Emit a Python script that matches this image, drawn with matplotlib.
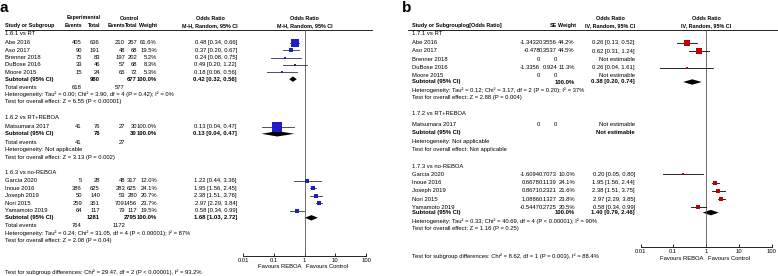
import matplotlib
matplotlib.use('Agg')
import matplotlib.pyplot as plt

plt.rcParams['font.family'] = ['Liberation Sans', 'DejaVu Sans']

W, H = 778, 276
FS = 4.25
HFS = 3.9

# ------------------------- Panel a data -------------------------
a_g1_label = "1.6.1 vs RT"
a_g1_studies = ["Abe 2016", "Aso 2017", "Brenner 2018", "DuBose 2016", "Moore 2015"]
a_g1_exp_events = [405, 90, 75, 33, 15]
a_g1_exp_total = [636, 191, 83, 46, 24]
a_g1_ctrl_events = [210, 48, 197, 57, 65]
a_g1_ctrl_total = [267, 68, 202, 68, 72]
a_g1_weight = [61.6, 19.5, 5.2, 8.3, 5.3]
a_g1_or = [0.48, 0.37, 0.24, 0.49, 0.18]
a_g1_lo = [0.34, 0.20, 0.08, 0.20, 0.06]
a_g1_hi = [0.66, 0.67, 0.75, 1.22, 0.56]
a_g1_sub = [0.42, 0.32, 0.56]
a_g1_sub_totals = [980, 677]
a_g1_total_events = [618, 577]
a_g1_het = "Heterogeneity: Tau² = 0.00; Chi² = 3.90, df = 4 (P = 0.42); I² = 0%"
a_g1_test = "Test for overall effect: Z = 6.55 (P < 0.00001)"

a_g2_label = "1.6.2 vs RT+REBOA"
a_g2_studies = ["Matsumara 2017"]
a_g2_exp_events = [41]
a_g2_exp_total = [76]
a_g2_ctrl_events = [27]
a_g2_ctrl_total = [30]
a_g2_weight = [100.0]
a_g2_or = [0.13]
a_g2_lo = [0.04]
a_g2_hi = [0.47]
a_g2_sub = [0.13, 0.04, 0.47]
a_g2_sub_totals = [76, 30]
a_g2_total_events = [41, 27]
a_g2_het = "Heterogeneity: Not applicable"
a_g2_test = "Test for overall effect: Z = 3.13 (P = 0.002)"

a_g3_label = "1.6.3 vs no-REBOA"
a_g3_studies = ["Garcia 2020", "Inoue 2016", "Joseph 2019", "Nori 2015", "Yamamoto 2019"]
a_g3_exp_events = [5, 386, 50, 259, 64]
a_g3_exp_total = [28, 625, 140, 351, 117]
a_g3_ctrl_events = [48, 283, 53, 709, 79]
a_g3_ctrl_total = [317, 625, 280, 1456, 117]
a_g3_weight = [12.0, 24.1, 20.7, 23.7, 19.5]
a_g3_or = [1.22, 1.95, 2.38, 2.97, 0.58]
a_g3_lo = [0.44, 1.56, 1.51, 2.29, 0.34]
a_g3_hi = [3.36, 2.45, 3.76, 3.84, 0.99]
a_g3_sub = [1.68, 1.03, 2.72]
a_g3_sub_totals = [1281, 2795]
a_g3_total_events = [764, 1172]
a_g3_het = "Heterogeneity: Tau² = 0.24; Chi² = 31.05, df = 4 (P < 0.00001); I² = 87%"
a_g3_test = "Test for overall effect: Z = 2.08 (P = 0.04)"

a_subgroup_test = "Test for subgroup differences: Chi² = 29.47, df = 2 (P < 0.00001), I² = 93.2%"

# ------------------------- Panel b data -------------------------
b_g1_label = "1.7.1 vs RT"
b_g1_studies = ["Abe 2016", "Aso 2017", "Brenner 2018", "DuBose 2016", "Moore 2015"]
b_g1_logor = [-1.3432, -0.478, 0, -1.3356, 0]
b_g1_se = [0.3556, 0.3537, 0, 0.924, 0]
b_g1_weight = [44.2, 44.5, None, 11.3, None]
b_g1_or = [0.26, 0.62, None, 0.26, None]
b_g1_lo = [0.13, 0.31, None, 0.04, None]
b_g1_hi = [0.52, 1.24, None, 1.61, None]
b_g1_sub = [0.38, 0.20, 0.74]
b_g1_het = "Heterogeneity: Tau² = 0.12; Chi² = 3.17, df = 2 (P = 0.20); I² = 37%"
b_g1_test = "Test for overall effect: Z = 2.88 (P = 0.004)"

b_g2_label = "1.7.2 vs RT+REBOA"
b_g2_studies = ["Matsumara 2017"]
b_g2_logor = [0]
b_g2_se = [0]
b_g2_weight = [None]
b_g2_or = [None]
b_g2_lo = [None]
b_g2_hi = [None]
b_g2_sub = None
b_g2_het = "Heterogeneity: Not applicable"
b_g2_test = "Test for overall effect: Not applicable"

b_g3_label = "1.7.3 vs no-REBOA"
b_g3_studies = ["Garcia 2020", "Inoue 2016", "Joseph 2019", "Nori 2015", "Yamamoto 2019"]
b_g3_logor = [-1.6094, 0.6678, 0.8671, 1.0886, -0.5447]
b_g3_se = [0.7073, 0.1139, 0.2321, 0.1327, 0.2725]
b_g3_weight = [10.0, 24.1, 21.6, 23.8, 20.5]
b_g3_or = [0.20, 1.95, 2.38, 2.97, 0.58]
b_g3_lo = [0.05, 1.56, 1.51, 2.29, 0.34]
b_g3_hi = [0.80, 2.44, 3.75, 3.85, 0.99]
b_g3_sub = [1.40, 0.79, 2.46]
b_g3_het = "Heterogeneity: Tau² = 0.33; Chi² = 40.69, df = 4 (P < 0.00001); I² = 90%"
b_g3_test = "Test for overall effect: Z = 1.16 (P = 0.25)"

b_subgroup_test = "Test for subgroup differences: Chi² = 8.62, df = 1 (P = 0.003), I² = 88.4%"

axis_ticks = [0.01, 0.1, 1, 10, 100]
axis_tick_labels = ["0.01", "0.1", "1", "10", "100"]
favours_left = "Favours REBOA"
favours_right = "Favours Control"

# ------------------------- figure -------------------------
fig = plt.figure(figsize=(W / 100, H / 100), dpi=100)
ax = fig.add_axes([0, 0, 1, 1])
ax.set_xlim(0, W)
ax.set_ylim(H, 0)
ax.axis('off')


def t(x, y, s, ha='left', bold=False, fs=FS):
    ax.text(x, y, s, ha=ha, va='center', fontsize=fs,
            fontweight='bold' if bold else 'normal', color='black')


def hdr(x, y, s, ha='left'):
    t(x, y, s, ha=ha, bold=True, fs=HFS)


def forest_axes(x0, x1, y_top, y_axis):
    a = fig.add_axes([x0 / W, 1 - y_axis / H, (x1 - x0) / W, (y_axis - y_top) / H])
    a.set_xscale('log')
    a.set_xlim(0.01, 100)
    a.set_ylim(y_axis, y_top)
    a.patch.set_alpha(0)
    for s in ['top', 'left', 'right']:
        a.spines[s].set_visible(False)
    a.spines['bottom'].set_linewidth(0.6)
    a.set_yticks([])
    a.set_xticks(axis_ticks)
    a.set_xticklabels(axis_tick_labels, fontsize=FS)
    a.minorticks_off()
    a.tick_params(axis='x', direction='in', length=2.2, width=0.6, pad=1.8)
    a.plot([1, 1], [y_top, y_axis], color='#555555', lw=0.6, clip_on=False)
    return a


def diamond(a, est, lo, hi, y, hh=2.7):
    a.fill([lo, est, hi, est], [y, y - hh, y, y + hh], color='black', lw=0, clip_on=False)


# ------------------------- Panel a -------------------------
A_STUDY, A_EE, A_ET, A_CE, A_CT, A_WT, A_OR = 5, 82, 100, 125, 137, 157, 237
A_PLOT_X0, A_PLOT_X1, A_TOP, A_AXIS = 243, 366, 29.5, 256

t(0, 8, "a", bold=True, fs=11)
hdr(84, 18, "Experimental", ha='center')
hdr(129, 18, "Control", ha='center')
hdr(210, 18, "Odds Ratio", ha='center')
hdr((A_PLOT_X0 + A_PLOT_X1) / 2, 18, "Odds Ratio", ha='center')
hdr(A_STUDY, 25.5, "Study or Subgroup")
hdr(A_EE, 25.5, "Events", ha='right')
hdr(A_ET, 25.5, "Total", ha='right')
hdr(A_CE, 25.5, "Events", ha='right')
hdr(A_CT, 25.5, "Total", ha='right')
hdr(A_WT, 25.5, "Weight", ha='right')
hdr(210, 25.5, "M-H, Random, 95% CI", ha='center')
hdr((A_PLOT_X0 + A_PLOT_X1) / 2, 25.5, "M-H, Random, 95% CI", ha='center')
ax.plot([5, 372], [A_TOP, A_TOP], color='black', lw=0.6)

fa = forest_axes(A_PLOT_X0, A_PLOT_X1, A_TOP, A_AXIS)

a_groups = [
    dict(label=a_g1_label, studies=a_g1_studies, ee=a_g1_exp_events, et=a_g1_exp_total,
         ce=a_g1_ctrl_events, ct=a_g1_ctrl_total, w=a_g1_weight, est=a_g1_or, lo=a_g1_lo,
         hi=a_g1_hi, sub=a_g1_sub, subt=a_g1_sub_totals, tot=a_g1_total_events,
         het=a_g1_het, test=a_g1_test),
    dict(label=a_g2_label, studies=a_g2_studies, ee=a_g2_exp_events, et=a_g2_exp_total,
         ce=a_g2_ctrl_events, ct=a_g2_ctrl_total, w=a_g2_weight, est=a_g2_or, lo=a_g2_lo,
         hi=a_g2_hi, sub=a_g2_sub, subt=a_g2_sub_totals, tot=a_g2_total_events,
         het=a_g2_het, test=a_g2_test),
    dict(label=a_g3_label, studies=a_g3_studies, ee=a_g3_exp_events, et=a_g3_exp_total,
         ce=a_g3_ctrl_events, ct=a_g3_ctrl_total, w=a_g3_weight, est=a_g3_or, lo=a_g3_lo,
         hi=a_g3_hi, sub=a_g3_sub, subt=a_g3_sub_totals, tot=a_g3_total_events,
         het=a_g3_het, test=a_g3_test),
]
# layout (pixel rows): header, first study, step, subtotal, total events, heterogeneity, test
a_layout = [
    (33.3, 42.7, 7.4, 79.2, 87.3, 94.6, 101.9),
    (117.3, 126.7, 7.4, 133.8, 142.8, 150.0, 157.3),
    (172.3, 180.9, 7.45, 217.8, 225.9, 233.1, 240.4),
]
BLUE = '#1e1ec8'
for g, (yh, ys, st, ysub, ytot, yhet, ytest) in zip(a_groups, a_layout):
    t(A_STUDY, yh, g['label'])
    for i, name in enumerate(g['studies']):
        y = ys + i * st
        t(A_STUDY, y, name)
        t(A_EE, y, str(g['ee'][i]), ha='right')
        t(A_ET, y, str(g['et'][i]), ha='right')
        t(A_CE, y, str(g['ce'][i]), ha='right')
        t(A_CT, y, str(g['ct'][i]), ha='right')
        t(A_WT, y, f"{g['w'][i]:.1f}%", ha='right')
        t(A_OR, y, f"{g['est'][i]:.2f} [{g['lo'][i]:.2f}, {g['hi'][i]:.2f}]", ha='right')
        fa.plot([g['lo'][i], g['hi'][i]], [y, y], color='#303050', lw=0.6, clip_on=False)
        side = max(9.8 * (g['w'][i] / 100) ** 0.5, 1.4)
        fa.plot([g['est'][i]], [y], marker='s', ms=side * 0.72, mew=0, color=BLUE,
                clip_on=False, zorder=3)
    t(A_STUDY, ysub, "Subtotal (95% CI)", bold=True)
    t(A_ET, ysub, str(g['subt'][0]), ha='right', bold=True)
    t(A_CT, ysub, str(g['subt'][1]), ha='right', bold=True)
    t(A_WT, ysub, "100.0%", ha='right', bold=True)
    e, l, h = g['sub']
    t(A_OR, ysub, f"{e:.2f} [{l:.2f}, {h:.2f}]", ha='right', bold=True)
    diamond(fa, e, l, h, ysub)
    t(A_STUDY, ytot, "Total events")
    t(A_EE, ytot, str(g['tot'][0]), ha='right')
    t(A_CE, ytot, str(g['tot'][1]), ha='right')
    t(A_STUDY, yhet, g['het'])
    t(A_STUDY, ytest, g['test'])

t(A_STUDY, 272.5, a_subgroup_test)
t(304.5 - 3, 267, favours_left, ha='right')
t(304.5 + 2, 267, favours_right, ha='left')

# ------------------------- Panel b -------------------------
B_STUDY, B_LOR, B_SE, B_WT, B_OR = 412, 540, 557, 575, 635
B_PLOT_X0, B_PLOT_X1, B_TOP, B_AXIS = 640.5, 771.5, 29.5, 246.5

t(402, 8, "b", bold=True, fs=11)
hdr(610, 18, "Odds Ratio", ha='center')
hdr((B_PLOT_X0 + B_PLOT_X1) / 2, 18, "Odds Ratio", ha='center')
hdr(B_STUDY, 25.5, "Study or Subgroup")
hdr(461, 25.5, "log[Odds Ratio]")
hdr(B_SE, 25.5, "SE", ha='right')
hdr(B_WT + 1, 25.5, "Weight", ha='right')
hdr(610, 25.5, "IV, Random, 95% CI", ha='center')
hdr((B_PLOT_X0 + B_PLOT_X1) / 2, 25.5, "IV, Random, 95% CI", ha='center')
ax.plot([408, 778], [B_TOP, B_TOP], color='black', lw=0.6)

fb = forest_axes(B_PLOT_X0, B_PLOT_X1, B_TOP, B_AXIS)

b_groups = [
    dict(label=b_g1_label, studies=b_g1_studies, lor=b_g1_logor, se=b_g1_se, w=b_g1_weight,
         est=b_g1_or, lo=b_g1_lo, hi=b_g1_hi, sub=b_g1_sub, het=b_g1_het, test=b_g1_test),
    dict(label=b_g2_label, studies=b_g2_studies, lor=b_g2_logor, se=b_g2_se, w=b_g2_weight,
         est=b_g2_or, lo=b_g2_lo, hi=b_g2_hi, sub=b_g2_sub, het=b_g2_het, test=b_g2_test),
    dict(label=b_g3_label, studies=b_g3_studies, lor=b_g3_logor, se=b_g3_se, w=b_g3_weight,
         est=b_g3_or, lo=b_g3_lo, hi=b_g3_hi, sub=b_g3_sub, het=b_g3_het, test=b_g3_test),
]
# layout: header, first study, step, subtotal, heterogeneity, test
b_layout = [
    (33.3, 42.7, 8.3, 82.0, 90.0, 98.0),
    (113.3, 124.8, 8.3, 132.3, 142.0, 150.0),
    (166.7, 174.3, 8.25, 212.6, 220.7, 228.5),
]
RED = '#c00000'
for g, (yh, ys, st, ysub, yhet, ytest) in zip(b_groups, b_layout):
    t(B_STUDY, yh, g['label'])
    for i, name in enumerate(g['studies']):
        y = ys + i * st
        t(B_STUDY, y, name)
        t(B_LOR, y, f"{g['lor'][i]:g}", ha='right')
        t(B_SE, y, f"{g['se'][i]:g}", ha='right')
        if g['est'][i] is None:
            t(B_OR, y, "Not estimable", ha='right')
            continue
        t(B_WT, y, f"{g['w'][i]:.1f}%", ha='right')
        t(B_OR, y, f"{g['est'][i]:.2f} [{g['lo'][i]:.2f}, {g['hi'][i]:.2f}]", ha='right')
        fb.plot([g['lo'][i], g['hi'][i]], [y, y], color='black', lw=0.6, clip_on=False)
        side = max(7.6 * (g['w'][i] / 100) ** 0.5, 1.4)
        fb.plot([g['est'][i]], [y], marker='s', ms=side * 0.72, mew=0, color=RED,
                clip_on=False, zorder=3)
    t(B_STUDY, ysub, "Subtotal (95% CI)", bold=True)
    if g['sub'] is None:
        t(B_OR, ysub, "Not estimable", ha='right', bold=True)
    else:
        t(B_WT, ysub, "100.0%", ha='right', bold=True)
        e, l, h = g['sub']
        t(B_OR, ysub, f"{e:.2f} [{l:.2f}, {h:.2f}]", ha='right', bold=True)
        diamond(fb, e, l, h, ysub)
    t(B_STUDY, yhet, g['het'])
    t(B_STUDY, ytest, g['test'])

t(B_STUDY, 256, b_subgroup_test)
t(706 - 3, 259, favours_left, ha='right')
t(706 + 2, 259, favours_right, ha='left')

fig.savefig('out.png', dpi=100)
